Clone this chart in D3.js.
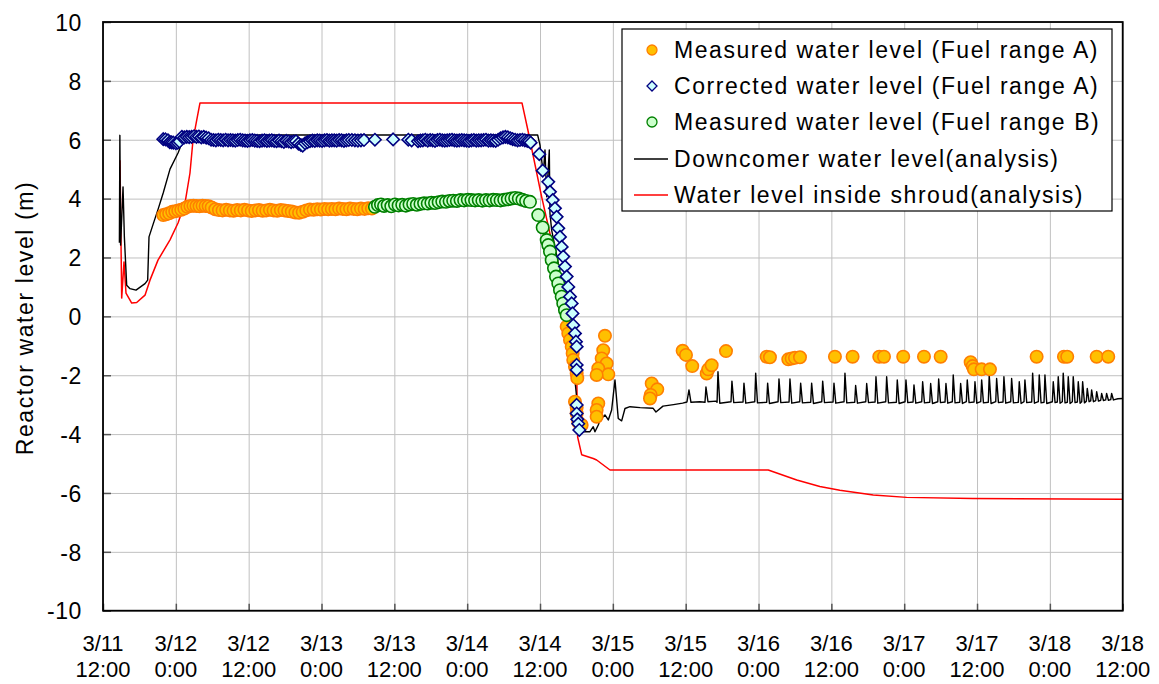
<!DOCTYPE html>
<html><head><meta charset="utf-8">
<script src="https://cdn.jsdelivr.net/npm/d3@7"></script>
<style>
body{margin:0;background:#fff}
svg{display:block}
text{font-family:"Liberation Sans",Arial,sans-serif;fill:#000}
</style>
</head><body>
<svg id="chart" width="1159" height="684"></svg>
<script>
// ---- axis ticks (hours from 3/11 12:00) ----
const xTickHours = [0,12,24,36,48,60,72,84,96,108,120,132,144,156,168];
const xTickDates = ["3/11","3/12","3/12","3/13","3/13","3/14","3/14","3/15","3/15","3/16","3/16","3/17","3/17","3/18","3/18"];
const xTickTimes = ["12:00","0:00","12:00","0:00","12:00","0:00","12:00","0:00","12:00","0:00","12:00","0:00","12:00","0:00","12:00"];
const yTicks = [-10,-8,-6,-4,-2,0,2,4,6,8,10];

// ---- series: [hour, water level (m)] ----
const measuredA = [
[9.93,3.44],[10.4,3.47],[10.9,3.5],[11.4,3.55],[11.9,3.57],[12.4,3.6],[12.9,3.62],[13.4,3.66],[13.9,3.72],[14.4,3.75],[14.9,3.76],[15.4,3.75],[15.9,3.74],[16.4,3.76],[16.9,3.75],[17.4,3.74],[17.9,3.7],[18.5,3.64],[19.1,3.61],[19.7,3.6],[20.3,3.62],[20.9,3.6],[21.5,3.59],[22.1,3.61],[22.7,3.6],[23.3,3.62],[23.9,3.6],[24.5,3.58],[25.1,3.6],[25.7,3.61],[26.3,3.59],[26.9,3.6],[27.5,3.62],[28.1,3.6],[28.7,3.59],[29.3,3.61],[29.9,3.6],[30.5,3.58],[31.1,3.56],[31.7,3.53],[32.3,3.52],[32.9,3.55],[33.5,3.6],[34.1,3.63],[34.7,3.62],[35.3,3.64],[35.9,3.63],[36.5,3.65],[37.1,3.64],[37.7,3.65],[38.3,3.64],[38.9,3.66],[39.5,3.65],[40.1,3.64],[40.7,3.66],[41.3,3.65],[41.9,3.64],[42.5,3.66],[43.1,3.65],[43.7,3.67],[44.3,3.66],
[76.39,-0.35],[76.66,-0.58],[76.94,-0.8],[77.22,-1.03],[77.38,-1.26],[77.48,-1.48],[77.76,-1.71],[78.04,-1.94],[78.14,-2.1],[77.76,-2.9],[78.04,-3.1],[78.04,-3.3],[78.3,-3.6],[78.86,-3.69],
[82.7,-0.66],[82.42,-1.15],[82.16,-1.43],[82.98,-1.6],[81.6,-1.77],[83.25,-1.97],[81.33,-1.99],[81.6,-2.96],[81.33,-3.18],[81.33,-3.41],
[90.4,-2.28],[91.32,-2.48],[90.23,-2.67],[90.12,-2.79],
[95.5,-1.17],[96.05,-1.31],[97.08,-1.69],[99.46,-1.94],[99.72,-1.8],[100.28,-1.66],[102.64,-1.18],
[109.34,-1.37],[109.88,-1.39],[112.9,-1.46],[113.46,-1.43],[114.0,-1.41],[114.83,-1.39],
[120.59,-1.37],[123.5,-1.37],[127.89,-1.37],[128.67,-1.37],[131.84,-1.37],[135.26,-1.37],[138.01,-1.37],
[142.95,-1.56],[143.28,-1.69],[143.49,-1.8],[144.76,-1.8],[146.13,-1.8],
[153.82,-1.37],[158.32,-1.37],[158.86,-1.37],[163.71,-1.37],[165.62,-1.37]
];

const correctedA = [
[9.93,6.02],[10.3,6.01],[10.7,5.98],[11.0,5.92],[11.3,5.91],[11.6,5.9],[12.0,5.88],[12.3,5.9],[12.6,5.94],[13.0,6.1],[13.4,6.08],[13.8,6.1],[14.2,6.09],[14.6,6.1],[15.0,6.12],[15.4,6.1],[15.8,6.11],[16.2,6.08],[16.6,6.1],[17.0,6.07],[17.4,6.05],[17.8,6.0],[18.2,5.99],[18.6,5.98],[19.0,6.0],[19.4,5.99],[19.8,5.98],[20.2,6.0],[20.6,5.98],[21.0,5.99],[21.4,5.98],[21.8,5.97],[22.2,5.99],[22.6,6.0],[23.0,5.98],[23.4,5.97],[23.8,5.96],[24.2,5.98],[24.6,5.99],[25.0,5.97],[25.4,5.96],[25.8,5.95],[26.2,5.97],[26.6,5.98],[27.0,5.96],[27.4,5.97],[27.8,5.98],[28.2,5.96],[28.6,5.95],[29.0,5.97],[29.4,5.95],[29.8,5.93],[30.2,5.96],[30.6,5.94],[31.0,5.92],[31.4,5.94],[31.8,5.95],[32.2,5.87],[32.6,5.82],[32.9,5.8],[33.3,5.88],[33.7,5.92],[34.1,5.95],[34.5,5.97],[34.9,5.96],[35.3,5.98],[35.7,5.97],[36.1,5.96],[36.5,5.98],[36.9,5.99],[37.3,5.97],[37.7,5.98],[38.1,5.98],[38.5,5.97],[38.9,5.99],[39.3,5.98],[39.7,5.96],[40.1,5.98],[40.5,5.99],[41.0,5.99],[41.5,5.98],[42.0,5.97],[42.5,5.98],[43.0,5.99],[44.8,6.0],[47.8,6.01],[50.3,6.0],[50.85,5.98],
[51.9,5.95],[52.3,5.97],[52.7,5.98],[53.1,6.0],[53.5,5.97],[53.9,5.99],[54.3,5.98],[54.7,5.96],[55.1,5.99],[55.5,6.0],[55.9,5.98],[56.3,5.97],[56.7,5.98],[57.1,5.99],[57.5,6.0],[57.9,5.98],[58.3,5.97],[58.7,5.98],[59.1,5.99],[59.5,5.98],[59.9,5.97],[60.3,5.96],[60.7,5.98],[61.1,5.99],[61.5,5.97],[61.9,5.98],[62.3,5.98],[62.7,5.99],[63.1,6.0],[63.5,5.97],[63.9,5.98],[64.3,5.97],[64.7,5.96],[65.1,6.0],[65.5,6.05],[65.9,6.08],[66.3,6.1],[66.7,6.08],[67.1,6.05],[67.5,6.02],[67.9,6.0],[68.3,5.98],[68.7,5.99],[69.1,6.0],[69.5,5.98],[69.9,5.96],[70.2,5.95],[70.46,5.9],
[71.88,5.51],[72.44,4.95],[73.36,4.57],[73.64,4.23],[74.09,3.95],[74.46,3.67],[74.74,3.38],[75.01,2.99],[75.29,2.7],[75.57,2.36],[75.83,2.03],[76.11,1.69],[76.39,1.35],[76.66,1.0],[76.94,0.67],[77.22,0.44],[77.35,0.1],[77.48,-0.3],[77.76,-0.58],[77.92,-0.86],[78.04,-1.03],[78.04,-1.65],[78.04,-1.82],[78.04,-3.01],[78.04,-3.3],[78.14,-3.5],[78.3,-3.65],[78.47,-3.86]
];

const measuredB = [
[44.8,3.72],[45.3,3.78],[45.8,3.8],[46.3,3.75],[46.9,3.78],[47.5,3.74],[48.1,3.8],[48.7,3.77],[49.3,3.79],[49.9,3.76],[50.5,3.8],[51.1,3.82],[51.7,3.79],[52.3,3.82],[52.9,3.84],[53.5,3.83],[54.1,3.86],[54.7,3.85],[55.3,3.88],[55.9,3.9],[56.5,3.89],[57.1,3.92],[57.7,3.93],[58.3,3.92],[58.9,3.95],[59.5,3.94],[60.1,3.96],[60.7,3.95],[61.3,3.94],[61.9,3.95],[62.5,3.93],[63.1,3.95],[63.7,3.94],[64.3,3.96],[64.9,3.95],[65.5,3.94],[66.1,3.96],[66.7,3.98],[67.3,4.0],[67.9,4.02],[68.5,4.0],[69.1,3.96],[69.7,3.92],[70.35,3.89],
[71.71,3.44],[72.44,3.02],[73.1,2.59],[73.36,2.42],[73.64,2.2],[73.92,1.91],[74.3,1.63],[74.63,1.35],[75.01,1.12],[75.29,0.89],[75.57,0.67],[75.83,0.44],[76.11,0.21],[76.39,0.04]
];

const downcomer = [
[2.7,2.5],[2.78,6.15],[2.9,2.42],[3.3,4.4],[3.52,2.7],[3.9,1.06],[4.45,0.94],[5.44,0.89],[6.92,1.11],[7.36,1.23],[7.58,2.7],[8.29,3.15],[9.11,3.66],[9.93,4.2],[11.04,5.0],[12.36,5.55],[13.23,6.0],[13.89,6.16],
[71.61,6.16],[72.0,5.82],[72.27,5.31],[72.54,4.85],[72.82,5.65],[73.1,4.06],[73.53,5.65],[73.64,3.5],[73.92,2.93],[75.01,1.8],[76.39,0.1],[77.48,-1.6],[78.3,-3.3],[78.58,-3.97],
[78.86,-3.92],[80.23,-3.92],[80.77,-3.75],[81.05,-3.92],[81.6,-3.69],[81.88,-3.52],[82.7,-3.35],[83.25,-3.52],[83.8,-3.18],[84.35,-2.16],[84.89,-3.47],[85.45,-3.55],[86.0,-3.13],[86.82,-3.07],[88.5,-3.1],[90.61,-3.12],[91.1,-3.25],[92.26,-3.05],[94.0,-3.0],[95.5,-2.95],[96.21,-2.91],[96.54,-2.5],[96.87,-2.92],[98.35,-2.9],[99.18,-2.92],[99.34,-2.4],[99.67,-2.9],[101.0,-2.88],
[101.17,-2.92],[101.32,-1.88],[101.62,-2.95],[103.47,-2.9],[103.62,-2.2],[103.92,-2.93],[105.45,-2.91],[105.6,-2.27],[105.9,-2.95],[107.38,-2.9],[107.53,-1.93],[107.83,-2.94],
[109.35,-2.92],[109.5,-2.27],[109.8,-2.96],[111.22,-2.9],[111.37,-2.13],[111.67,-2.93],[113.03,-2.91],[113.18,-2.13],[113.48,-2.95],[114.79,-2.9],[114.94,-2.27],[115.24,-2.94],
[116.6,-2.92],[116.75,-2.27],[117.05,-2.96],[118.42,-2.9],[118.57,-2.2],[118.87,-2.93],[120.28,-2.91],[120.43,-2.27],[120.73,-2.95],[122.09,-2.9],[122.24,-1.93],[122.54,-2.94],
[123.85,-2.92],[124.0,-2.35],[124.3,-2.95],[125.67,-2.9],[125.82,-2.28],[126.12,-2.93],[127.2,-2.91],[127.35,-2.05],[127.65,-2.95],[128.96,-2.9],[129.11,-2.05],[129.41,-2.94],
[130.71,-2.92],[130.86,-2.16],[131.16,-2.96],[132.14,-2.9],[132.29,-2.16],[132.59,-2.93],[133.46,-2.91],[133.61,-2.33],[133.91,-2.95],[134.89,-2.9],[135.04,-2.22],[135.34,-2.94],
[136.21,-2.92],[136.36,-2.28],[136.66,-2.96],[137.53,-2.9],[137.68,-2.13],[137.98,-2.93],[138.73,-2.91],[138.88,-2.28],[139.18,-2.95],[139.93,-2.9],[140.08,-1.99],[140.38,-2.94],
[141.15,-2.92],[141.3,-2.28],[141.6,-2.96],[142.24,-2.9],[142.39,-2.16],[142.69,-2.93],[143.51,-2.91],[143.66,-2.22],[143.96,-2.95],[144.61,-2.9],[144.76,-2.16],[145.06,-2.94],
[145.86,-2.92],[146.01,-1.99],[146.31,-2.96],[147.08,-2.9],[147.23,-2.11],[147.53,-2.93],[148.28,-2.91],[148.43,-2.05],[148.73,-2.95],[149.55,-2.9],[149.7,-2.11],[150.0,-2.94],
[150.81,-2.92],[150.96,-2.22],[151.26,-2.96],[151.74,-2.9],[151.89,-2.16],[152.19,-2.93],[153.01,-2.91],[153.16,-1.93],[153.46,-2.95],[154.1,-2.9],[154.25,-1.99],[154.55,-2.94],
[155.04,-2.92],[155.19,-1.99],[155.49,-2.96],[156.41,-2.9],[156.56,-2.22],[156.86,-2.93],[157.23,-2.91],[157.38,-2.05],[157.68,-2.95],[158.05,-2.9],[158.2,-1.93],[158.5,-2.94],
[158.88,-2.92],[159.03,-2.05],[159.33,-2.96],[159.7,-2.9],[159.85,-2.05],[160.15,-2.93],[160.53,-2.91],[160.68,-2.22],[160.98,-2.95],[161.25,-2.9],[161.4,-2.22],[161.7,-2.94],
[162.01,-2.88],[162.16,-2.45],[162.46,-2.9],[162.73,-2.87],[162.88,-2.5],[163.18,-2.9],[163.56,-2.86],[163.71,-2.56],[164.01,-2.88],[164.38,-2.85],[164.53,-2.62],[164.83,-2.86],
[165.2,-2.84],[165.35,-2.62],[165.65,-2.85],[166.03,-2.83],[166.18,-2.62],[166.48,-2.84],[167.2,-2.8],[168,-2.79]
];

const shroud = [
[2.8,5.3],[3.08,0.62],[3.46,1.85],[3.79,0.79],[4.73,0.45],[5.55,0.47],[6.92,0.72],[7.74,1.23],[9.06,1.91],[11.04,2.6],[12.36,3.17],[13.51,3.85],[14.33,4.87],[14.83,5.99],[15.44,6.67],[15.98,7.25],
[69.03,7.25],[70.0,6.33],[72.27,4.06],[74.74,1.81],[76.66,0],[78.04,-1.83],[78.2,-4.1],[78.42,-4.3],[78.86,-4.7],[80.77,-4.83],[81.33,-4.88],[83.53,-5.22],
[109.6,-5.22],[114.3,-5.56],[118.1,-5.78],[121.4,-5.91],[126.9,-6.07],[132.4,-6.15],[143.3,-6.19],[168,-6.21]
];

const legendLabels = [
"Measured water level (Fuel range A)",
"Corrected water level (Fuel range A)",
"Measured water level (Fuel range B)",
"Downcomer water level(analysis)",
"Water level inside shroud(analysis)"
];
const yTitle = "Reactor water level (m)";

// ---- layout ----
const W = 1159, H = 684;
const M = {l:103, r:36.3, t:22, b:73.3};
const svg = d3.select("#chart");
const x = d3.scaleLinear().domain([0,168]).range([M.l, W - M.r]);
const y = d3.scaleLinear().domain([-10,10]).range([H - M.b, M.t]);
const pw = W - M.l - M.r, ph = H - M.t - M.b;

svg.append("rect").attr("width",W).attr("height",H).attr("fill","#fff");

// grid
const gx = svg.append("g").attr("transform",`translate(0,${H-M.b})`)
  .call(d3.axisBottom(x).tickValues(xTickHours).tickSize(-ph).tickFormat(""));
gx.select(".domain").remove();
gx.selectAll("line").attr("stroke","#c0c0c0").attr("stroke-width",1);
const gy = svg.append("g").attr("transform",`translate(${M.l},0)`)
  .call(d3.axisLeft(y).tickValues(yTicks).tickSize(-pw).tickFormat(""));
gy.select(".domain").remove();
gy.selectAll("line").attr("stroke","#c0c0c0").attr("stroke-width",1);

// axes ticks
const ax = svg.append("g").attr("transform",`translate(0,${H-M.b})`)
  .call(d3.axisBottom(x).tickValues(xTickHours).tickSizeInner(-7).tickSizeOuter(0).tickFormat(""));
ax.select(".domain").remove();
ax.selectAll("line").attr("stroke","#555").attr("stroke-width",1.5);
const ay = svg.append("g").attr("transform",`translate(${M.l},0)`)
  .call(d3.axisLeft(y).tickValues(yTicks).tickSizeInner(-8).tickSizeOuter(0).tickPadding(21).tickFormat(d=>String(d)));
ay.select(".domain").remove();
ay.selectAll("line").attr("stroke","#555").attr("stroke-width",1.5);
ay.selectAll("text").attr("font-size",23).attr("font-family",'"Liberation Sans",Arial,sans-serif').attr("dy","0.36em").attr("letter-spacing","0.6px");

// x labels (two lines)
const xl = svg.append("g");
xTickHours.forEach((h,i)=>{
  const t = xl.append("text").attr("x",x(h)).attr("text-anchor","middle").attr("font-size",22);
  t.append("tspan").attr("x",x(h)).attr("y",651).text(xTickDates[i]);
  t.append("tspan").attr("x",x(h)).attr("y",677).text(xTickTimes[i]);
});

// y title
svg.append("text").attr("transform",`translate(33,318) rotate(-90)`).attr("text-anchor","middle")
  .attr("font-size",23).attr("letter-spacing","1.6px").text(yTitle);

// clip
svg.append("clipPath").attr("id","clip").append("rect").attr("x",M.l).attr("y",M.t).attr("width",pw).attr("height",ph);
const plot = svg.append("g").attr("clip-path","url(#clip)");

const line = d3.line().x(d=>x(d[0])).y(d=>y(d[1]));
plot.append("path").datum(shroud).attr("d",line).attr("fill","none").attr("stroke","#ff0000").attr("stroke-width",1.5).attr("stroke-linejoin","round");
plot.append("path").datum(downcomer).attr("d",line).attr("fill","none").attr("stroke","#000").attr("stroke-width",1.4).attr("stroke-linejoin","round");

const diamond = "M0,-6.2L6.2,0L0,6.2L-6.2,0Z";
plot.append("g").selectAll("circle").data(measuredA).join("circle")
  .attr("cx",d=>x(d[0])).attr("cy",d=>y(d[1])).attr("r",6.2)
  .attr("fill","#ffc000").attr("stroke","#ff7f00").attr("stroke-width",1.6);
plot.append("g").selectAll("circle").data(measuredB).join("circle")
  .attr("cx",d=>x(d[0])).attr("cy",d=>y(d[1])).attr("r",6.2)
  .attr("fill","#ccffcc").attr("stroke","#008000").attr("stroke-width",1.6);
plot.append("g").selectAll("path").data(correctedA).join("path")
  .attr("transform",d=>`translate(${x(d[0])},${y(d[1])})`).attr("d",diamond)
  .attr("fill","#ccffff").attr("stroke","#000080").attr("stroke-width",1.6);

// frame
svg.append("rect").attr("x",M.l).attr("y",M.t).attr("width",pw).attr("height",ph)
  .attr("fill","none").attr("stroke","#000").attr("stroke-width",1.8);

// legend
const lg = svg.append("g");
lg.append("rect").attr("x",622).attr("y",29).attr("width",490).attr("height",182)
  .attr("fill","#fff").attr("stroke","#000").attr("stroke-width",1.2);
const ly = [50,86,122,159,195];
lg.append("circle").attr("cx",652).attr("cy",ly[0]).attr("r",5).attr("fill","#ffc000").attr("stroke","#ff7f00").attr("stroke-width",1.3);
lg.append("path").attr("transform",`translate(652,${ly[1]})`).attr("d","M0,-5L5,0L0,5L-5,0Z").attr("fill","#ccffff").attr("stroke","#000080").attr("stroke-width",1.3);
lg.append("circle").attr("cx",652).attr("cy",ly[2]).attr("r",5).attr("fill","#ccffcc").attr("stroke","#008000").attr("stroke-width",1.3);
lg.append("line").attr("x1",634).attr("x2",668).attr("y1",ly[3]).attr("y2",ly[3]).attr("stroke","#000").attr("stroke-width",1.4);
lg.append("line").attr("x1",634).attr("x2",668).attr("y1",ly[4]).attr("y2",ly[4]).attr("stroke","#ff0000").attr("stroke-width",1.5);
legendLabels.forEach((s,i)=>{
  lg.append("text").attr("x",674).attr("y",ly[i]).attr("dy","0.36em").attr("font-size",23).attr("letter-spacing","1.55px").text(s);
});
</script>
</body></html>
